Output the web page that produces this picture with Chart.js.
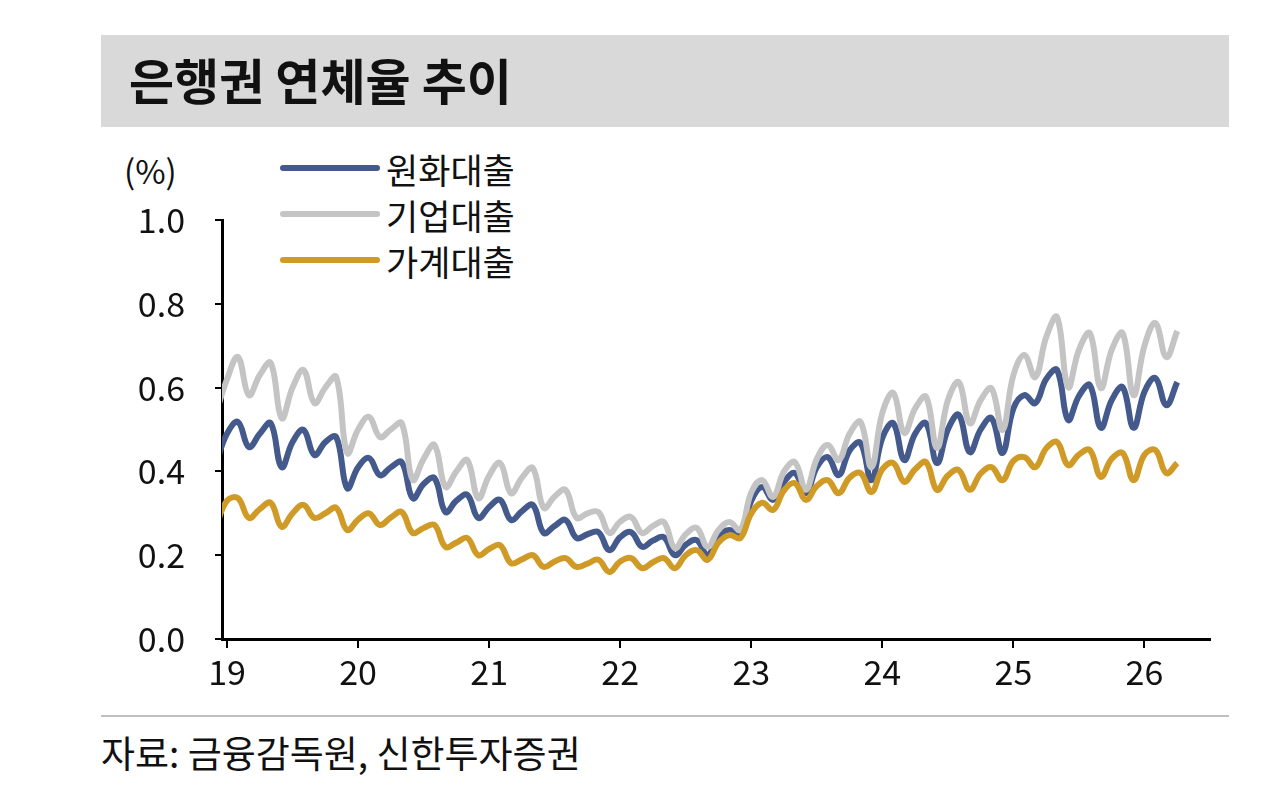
<!DOCTYPE html>
<html><head><meta charset="utf-8">
<script src="https://cdn.jsdelivr.net/npm/chart.js@4"></script>
<style>
body{margin:0;width:1280px;height:805px;background:#fff;font-family:'Noto Sans CJK KR','Noto Sans',sans-serif;position:relative;overflow:hidden}
#title{position:absolute;left:101px;top:35px;width:1128px;height:92px;background:#d9d9d9}
#title span{position:absolute;left:28px;top:8px;font-size:49px;font-weight:bold;color:#111}
#unit{position:absolute;left:124px;top:146px;font-size:33px;color:#111}
#legend{position:absolute;left:280px;top:145px;font-size:35px;color:#111}
#legend div{height:46px;display:flex;align-items:center}
#legend i{display:inline-block;width:100px;height:6px;margin-right:6px;border-radius:3px}
#rule{position:absolute;left:101px;top:715px;width:1128px;height:2px;background:#bfbfbf}
#src{position:absolute;left:101px;top:725px;font-size:37px;color:#111}
#wrap{position:absolute;left:0;top:140px;width:1280px;height:570px}
</style></head><body>
<div id="title"><span>은행권 연체율 추이</span></div>
<div id="unit">(%)</div>
<div id="legend"></div>
<div id="wrap"><canvas id="c"></canvas></div>
<div id="rule"></div>
<div id="src">자료: 금융감독원, 신한투자증권</div>
<script>
// month index: 0 = Jan 2019 (first value is Dec 2018, index -1)
const startMonth = -1;
const yearLabels = ['19','20','21','22','23','24','25','26'];
const seriesNames = ['원화대출','기업대출','가계대출'];
const seriesColors = ['#44598c','#c4c4c4','#d09a27'];
const krw = [0.42,
0.49,0.518,0.458,0.49,0.515,0.41,0.47,0.499,0.439,0.47,0.482,0.36,
0.41,0.432,0.391,0.41,0.422,0.336,0.37,0.384,0.303,0.33,0.344,0.289,
0.315,0.332,0.284,0.305,0.32,0.253,0.27,0.284,0.241,0.25,0.255,0.212,
0.243,0.255,0.22,0.235,0.243,0.2,0.225,0.236,0.2,0.245,0.26,0.248,
0.33,0.363,0.332,0.375,0.396,0.348,0.41,0.434,0.391,0.45,0.468,0.379,
0.48,0.515,0.427,0.49,0.515,0.42,0.50,0.535,0.446,0.50,0.527,0.444,
0.55,0.582,0.563,0.62,0.642,0.523,0.58,0.606,0.504,0.57,0.601,0.504,
0.59,0.623,0.558,0.613];
const corp = [0.54,
0.62,0.673,0.582,0.63,0.659,0.527,0.60,0.642,0.563,0.60,0.625,0.444,
0.50,0.53,0.482,0.50,0.515,0.38,0.43,0.463,0.363,0.40,0.427,0.336,
0.39,0.42,0.348,0.385,0.408,0.313,0.34,0.356,0.289,0.30,0.303,0.253,
0.28,0.291,0.253,0.27,0.279,0.217,0.25,0.265,0.22,0.26,0.279,0.26,
0.35,0.379,0.339,0.40,0.422,0.356,0.43,0.463,0.427,0.49,0.518,0.41,
0.54,0.587,0.492,0.55,0.578,0.456,0.57,0.613,0.515,0.57,0.598,0.499,
0.63,0.678,0.625,0.72,0.768,0.601,0.69,0.73,0.599,0.69,0.73,0.582,
0.70,0.754,0.673,0.735];
const household = [0.27,
0.33,0.336,0.289,0.31,0.325,0.268,0.30,0.32,0.289,0.30,0.313,0.26,
0.285,0.30,0.272,0.29,0.303,0.253,0.265,0.272,0.22,0.23,0.241,0.20,
0.215,0.224,0.181,0.19,0.20,0.172,0.185,0.193,0.172,0.18,0.189,0.16,
0.185,0.193,0.169,0.183,0.193,0.169,0.20,0.212,0.189,0.23,0.248,0.241,
0.30,0.325,0.308,0.355,0.372,0.332,0.365,0.379,0.348,0.385,0.396,0.351,
0.405,0.42,0.375,0.405,0.422,0.356,0.39,0.403,0.356,0.395,0.41,0.379,
0.425,0.434,0.41,0.455,0.47,0.415,0.44,0.451,0.387,0.43,0.444,0.379,
0.44,0.451,0.396,0.42];

const toPts = arr => arr.map((v,i)=>({x:startMonth+i,y:v}));
const seriesData = [krw,corp,household];
const order = [2,1,0];
const datasets = order.map(k=>({label:seriesNames[k],data:toPts(seriesData[k]),borderColor:seriesColors[k],borderWidth:6,pointRadius:0,tension:0.4,fill:false}));

const lg=document.getElementById('legend');
seriesNames.forEach((n,k)=>{const d=document.createElement('div');d.innerHTML='<i style="background:'+seriesColors[k]+'"></i>'+n;lg.appendChild(d);});

const F="'Noto Sans CJK KR','Noto Sans',sans-serif";
new Chart(document.getElementById('c'),{
type:'line',
data:{datasets},
options:{responsive:true,maintainAspectRatio:false,animation:false,
layout:{padding:{left:0,right:70,top:80,bottom:0}},
plugins:{legend:{display:false},tooltip:{enabled:false}},
scales:{
x:{type:'linear',min:-0.46,max:90,
afterBuildTicks:s=>{s.ticks=yearLabels.map((l,i)=>({value:i*12}));},
afterFit:s=>{s.height=71;},
ticks:{callback:(v)=>yearLabels[Math.round(v/12)],color:'#111',font:{family:F,size:34},padding:4,maxRotation:0,autoSkip:false},
grid:{drawOnChartArea:false,drawTicks:true,tickLength:9,color:'#000',lineWidth:2},
border:{color:'#000',width:3}},
y:{min:0,max:1,
afterFit:s=>{s.width=222;},
ticks:{stepSize:0.2,callback:v=>v.toFixed(1),color:'#111',font:{family:F,size:34},padding:30},
grid:{drawOnChartArea:false,drawTicks:true,tickLength:7,color:'#000',lineWidth:2},
border:{color:'#000',width:3}}
}}});
</script></body></html>
